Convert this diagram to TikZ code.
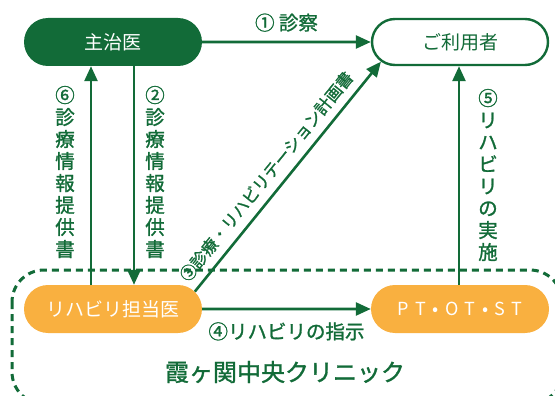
\documentclass[tikz,border=0pt]{standalone}
\usepackage{fontspec}
\setmainfont{Noto Sans CJK JP}
\newfontfamily\medfont[FakeBold=1.3]{Noto Sans CJK JP}
\usetikzlibrary{arrows.meta,shapes.misc}
\definecolor{dgreen}{HTML}{126B38}
\definecolor{orng}{HTML}{F9B040}
\tikzset{
  pill/.style={rounded rectangle, minimum width=178pt, minimum height=48pt, inner sep=0pt, font=\fontsize{19}{22}\selectfont},
  conn/.style={draw=dgreen, line width=2.6pt, -{Triangle[length=15pt,width=13pt]}},
  lbl/.style={text=dgreen, font=\medfont\fontsize{19.5}{22}\selectfont, inner sep=0pt},
  vlbl/.style={lbl, align=center},
}
\begin{document}
\begin{tikzpicture}[x=1pt,y=-1pt]
\useasboundingbox (0,0) rectangle (555,396);
\begin{scope}
\clip (0,0) rectangle (555,396);
\draw[dgreen, line width=3pt, dash pattern=on 7pt off 5pt, rounded corners=32pt] (12,270) rectangle (562,404);
\end{scope}
\node[pill, fill=dgreen, text=white] (doc) at (113,42) {主治医};
\node[pill, draw=dgreen, line width=2.4pt, fill=white, text=dgreen, minimum width=176pt, minimum height=46pt] (user) at (460,42) {ご利用者};
\node[pill, fill=orng, text=white] (rh) at (113,309) {リハビリ担当医};
\node[pill, fill=orng, text=white, font=\fontsize{18}{20}\selectfont] (pt) at (460,309) {P\hspace{6.5pt}T\hspace{6.5pt}•\hspace{6.5pt}O\hspace{6.5pt}T\hspace{6.5pt}•\hspace{6.5pt}S\hspace{6.5pt}T};
\draw[conn] (doc) -- node[lbl, above=9pt] {① 診察} (user);
\draw[conn] ([xshift=-22pt]rh.north) -- ([xshift=-22pt]doc.south);
\draw[conn] ([xshift=21pt]doc.south) -- ([xshift=21pt]rh.north);
\draw[conn] ([xshift=-1pt]pt.north) -- ([xshift=-1pt]user.south);
\draw[conn] (rh) -- node[lbl, below=12pt] {④リハビリの指示} (pt);
\draw[conn] (rh.12) -- node[lbl, sloped, pos=0.455, above=8pt, font=\medfont\fontsize{16.5}{18}\selectfont] {③診療・リハビリテーション計画書} (user.194);
\node[vlbl] (l6) at (65,172) {⑥\\診\\療\\情\\報\\提\\供\\書};
\node[vlbl] (l2) at (155,172) {②\\診\\療\\情\\報\\提\\供\\書};
\node[vlbl] (l5) at (488,175) {⑤\\リ\\ハ\\ビ\\リ\\の\\実\\施};
\node[text=dgreen, font=\medfont\fontsize{24}{26}\selectfont, inner sep=0pt] (clinic) at (285,372) {霞ヶ関中央クリニック};
\end{tikzpicture}
\end{document}
